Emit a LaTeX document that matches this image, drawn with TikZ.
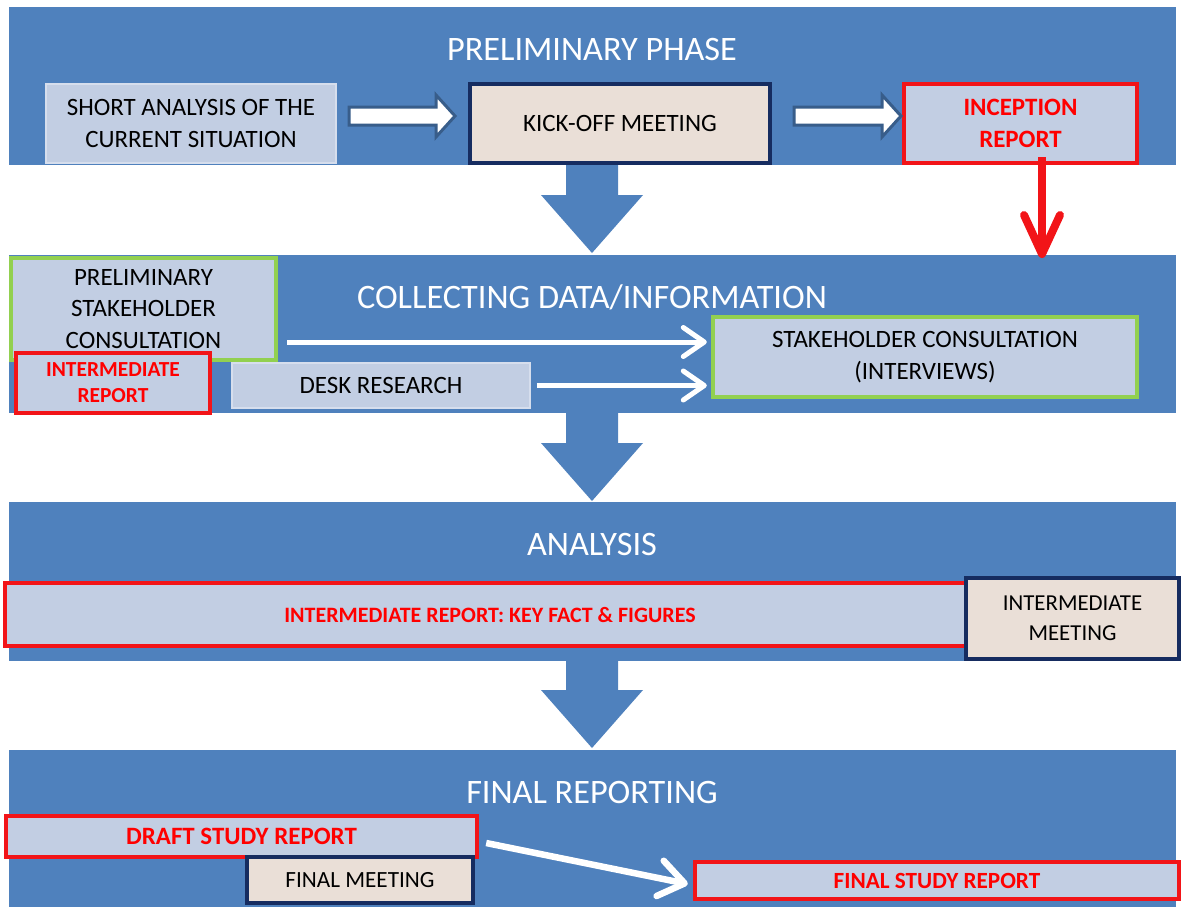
\documentclass[tikz,border=0pt]{standalone}
\usepackage{fontspec}
\setmainfont{Carlito}
\usetikzlibrary{arrows.meta,fit}

\definecolor{band}{RGB}{79,129,189}
\definecolor{pale}{RGB}{194,206,227}
\definecolor{paleedge}{RGB}{214,222,237}
\definecolor{beige}{RGB}{234,223,215}
\definecolor{navy}{RGB}{22,44,96}
\definecolor{leaf}{RGB}{146,208,80}
\definecolor{alert}{RGB}{242,20,24}
\definecolor{alerttext}{RGB}{255,0,0}
\definecolor{arrowedge}{RGB}{56,93,138}

\tikzset{
  phase/.style={fill=band, draw=none, inner sep=0pt},
  phasetitle/.style={text=white, inner sep=0pt, font=\fontsize{19.5}{23}\selectfont},
  boxbase/.style={inner sep=0pt, align=center, rectangle},
  task/.style={boxbase, fill=pale, draw=paleedge, line width=0.04cm,
    font=\fontsize{14.2}{18}\selectfont},
  meet/.style={boxbase, fill=beige, draw=navy, line width=0.09cm,
    font=\fontsize{14.2}{18}\selectfont},
  rep/.style={boxbase, fill=pale, draw=alert, line width=0.09cm, text=alerttext,
    font=\bfseries\fontsize{14.2}{18}\selectfont},
  consult/.style={boxbase, fill=pale, draw=leaf, line width=0.09cm,
    font=\fontsize{14.2}{18}\selectfont},
  size/.style 2 args={minimum width=#1, minimum height=#2},
  blockarrow/.style={fill=white, draw=arrowedge, line width=0.06cm},
  downarrow/.style={fill=band},
  flow/.style={draw=white, line width=0.1cm,
    -{Straight Barb[length=0.42cm, width=0.58cm, round]}},
  redflow/.style={draw=alert, line width=0.16cm,
    -{Straight Barb[length=0.78cm, width=0.72cm, round]}},
}

\begin{document}
\begin{tikzpicture}[x=0.02cm, y=-0.02cm]
\useasboundingbox (0,0) rectangle (1187,907);

% phase bands
\node[phase, fit={(9,7) (1176,165)}] (p1) {};
\node[phase, fit={(9,255) (1176,413)}] (p2) {};
\node[phase, fit={(9,502) (1176,661)}] (p3) {};
\node[phase, fit={(9,750) (1176,907)}] (p4) {};

% large arrows leading from one phase to the next
\fill[downarrow] (566,160) -- (618,160) -- (618,195) -- (643,195) -- (592,253)
  -- (541,195) -- (566,195) -- cycle;
\fill[downarrow] (566,408) -- (618,408) -- (618,443) -- (643,443) -- (592,501)
  -- (541,443) -- (566,443) -- cycle;
\fill[downarrow] (566,656) -- (618,656) -- (618,690) -- (643,690) -- (592,748)
  -- (541,690) -- (566,690) -- cycle;

% phase titles
\node[phasetitle, anchor=base] (t1) at (592,60) {PRELIMINARY PHASE};
\node[phasetitle, anchor=base] (t2) at (592,308) {COLLECTING DATA/INFORMATION};
\node[phasetitle, anchor=base] (t3) at (592,555) {ANALYSIS};
\node[phasetitle, anchor=base] (t4) at (592,803) {FINAL REPORTING};

% preliminary phase
\node[task, size={5.8cm}{1.58cm}] (sa) at (191,123.5) {SHORT ANALYSIS OF THE\\CURRENT SITUATION};
\node[meet, size={6.0cm}{1.58cm}] (ko) at (620,123.5) {KICK-OFF MEETING};
\node[rep, size={4.66cm}{1.58cm}] (ic) at (1020.5,123.5) {INCEPTION\\REPORT};

\filldraw[blockarrow] (349,107) -- (436,107) -- (436,95) -- (455,116) -- (436,137)
  -- (436,125) -- (349,125) -- cycle;
\filldraw[blockarrow] (794,107) -- (882,107) -- (882,95) -- (901,116) -- (882,137)
  -- (882,125) -- (794,125) -- cycle;

% collecting data
\node[consult, size={5.3cm}{2.04cm}] (psc) at (143.5,309)
  {PRELIMINARY\\STAKEHOLDER\\CONSULTATION};
\node[rep, font=\bfseries\fontsize{12.2}{14.8}\selectfont, size={3.88cm}{1.2cm}] (ir)
  at (113,383) {INTERMEDIATE\\REPORT};
\node[task, size={5.96cm}{0.9cm}] (dr) at (381,385.5) {DESK RESEARCH};
\node[consult, size={8.48cm}{1.6cm}] (sc) at (925,357)
  {STAKEHOLDER CONSULTATION\\(INTERVIEWS)};

\coordinate (f1) at (287,342);
\draw[flow, shorten >=0.08cm] (f1) -- (f1 -| sc.west);
\draw[flow, shorten >=0.08cm] ([xshift=0.12cm]dr.east) -- (dr.east -| sc.west);

% inception report feeds the data collection
\coordinate (rs) at (1042,157);
\coordinate (rt) at (1042,258);
\draw[redflow] (rs) -- (rt);

% analysis
\node[rep, font=\bfseries\fontsize{12.5}{15}\selectfont, size={19.4cm}{1.26cm}] (kf)
  at (490,614.5) {INTERMEDIATE REPORT: KEY FACT \& FIGURES};
\node[meet, font=\fontsize{13}{17}\selectfont, size={4.26cm}{1.62cm}] (im)
  at (1072.5,618.5) {INTERMEDIATE\\MEETING};

% final reporting
\node[rep, size={9.42cm}{0.82cm}] (ds) at (241.5,836.5) {DRAFT STUDY REPORT};
\node[meet, font=\fontsize{13.2}{16}\selectfont, size={4.52cm}{0.92cm}] (fm)
  at (360,880) {FINAL MEETING};
\node[rep, font=\bfseries\fontsize{13.2}{16}\selectfont, size={9.68cm}{0.74cm}] (fs)
  at (937,880.5) {FINAL STUDY REPORT};

\draw[flow, line width=0.13cm,
  -{Straight Barb[length=0.5cm, width=0.72cm, round]}]
  ([shift={(0.14cm,-0.13cm)}]ds.east) -- ([shift={(-0.1cm,-0.07cm)}]fs.west);
\end{tikzpicture}
\end{document}
